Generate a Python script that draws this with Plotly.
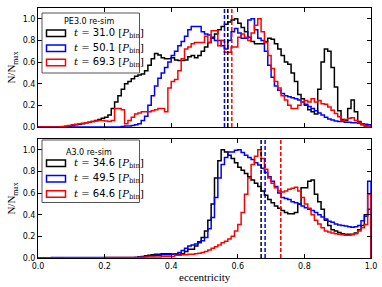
import numpy as np
import plotly.graph_objects as go
from plotly.subplots import make_subplots

# ---------------- data ----------------
BIN_EDGES = list(np.round(np.linspace(0.0, 1.0, 101), 3))

top_title = "PE3.0 re-sim"
top_times = ["31.0", "50.1", "69.3"]
top_black = [0, 0, 0, 0, 0, 0, 0, 0, 0.005, 0.01,
             0.015, 0.02, 0.025, 0.03, 0.04, 0.045, 0.05, 0.06, 0.07, 0.08,
             0.09, 0.11, 0.17, 0.23, 0.29, 0.35, 0.4, 0.42, 0.445, 0.47,
             0.48, 0.49, 0.52, 0.57, 0.63, 0.68, 0.665, 0.64, 0.63, 0.63,
             0.64, 0.62, 0.615, 0.615, 0.62, 0.65, 0.66, 0.64, 0.66, 0.7,
             0.74, 0.78, 0.83, 0.86, 0.9, 0.93, 0.95, 0.97, 0.99, 1.0,
             0.96, 0.92, 0.88, 0.83, 0.79, 0.77, 0.77, 0.77, 0.79, 0.82,
             0.81, 0.77, 0.72, 0.66, 0.6, 0.58, 0.5, 0.42, 0.3, 0.26,
             0.2, 0.16, 0.14, 0.12, 0.35, 0.6, 0.72, 0.7, 0.55, 0.37,
             0.15, 0.07, 0.06, 0.17, 0.25, 0.14, 0.05, 0.02, 0.01, 0.005]
top_blue = [0, 0, 0, 0, 0, 0, 0, 0, 0, 0,
            0, 0, 0, 0, 0, 0, 0, 0, 0, 0,
            0, 0, 0, 0, 0, 0.005, 0.01, 0.01, 0.015, 0.02,
            0.03, 0.06, 0.1, 0.2, 0.29, 0.38, 0.45, 0.5, 0.55, 0.6,
            0.66, 0.7, 0.75, 0.79, 0.84, 0.9, 0.93, 0.93, 0.93, 0.88,
            0.86, 0.85, 0.82, 0.8, 0.8, 0.75, 0.72, 0.8, 0.88, 0.91,
            0.87, 0.82, 0.82, 0.99, 1.0, 0.9, 0.82, 0.8, 0.7, 0.57,
            0.46, 0.38, 0.34, 0.31, 0.29, 0.28, 0.27, 0.26, 0.25, 0.23,
            0.21, 0.19, 0.17, 0.15, 0.13, 0.11, 0.09, 0.075, 0.065, 0.055,
            0.05, 0.05, 0.045, 0.045, 0.04, 0.04, 0.035, 0.03, 0.025, 0.02]
top_red = [0, 0, 0, 0, 0, 0, 0, 0.005, 0.01, 0.015,
           0.02, 0.025, 0.03, 0.035, 0.04, 0.045, 0.05, 0.055, 0.06, 0.06,
           0.055, 0.05, 0.06, 0.17, 0.17, 0.16, 0.03, 0.06, 0.09, 0.12,
           0.13, 0.14, 0.14, 0.14, 0.15, 0.16, 0.17, 0.17, 0.14, 0.36,
           0.42, 0.44, 0.52, 0.63, 0.72, 0.74, 0.77, 0.78, 0.78, 0.78,
           0.84, 0.78, 0.89, 0.89, 0.75, 0.8, 0.69, 0.69, 0.74, 0.74,
           0.83, 0.86, 0.83, 0.8, 0.87, 0.94, 1.0, 0.88, 0.78, 0.66,
           0.54, 0.42, 0.36, 0.29, 0.25, 0.2, 0.17, 0.17, 0.2, 0.23,
           0.245, 0.23, 0.26, 0.23, 0.245, 0.215, 0.21, 0.185, 0.155, 0.125,
           0.095, 0.06, 0.07, 0.08, 0.085, 0.06, 0.045, 0.025, 0.01, 0.005]
top_medians = [0.570, 0.560, 0.582]

bot_title = "A3.0 re-sim"
bot_times = ["34.6", "49.5", "64.6"]
bot_black = [0, 0, 0, 0, 0, 0, 0, 0, 0, 0,
             0, 0, 0, 0, 0, 0, 0, 0, 0, 0,
             0, 0, 0, 0, 0, 0, 0, 0, 0, 0.005,
             0.01, 0.015, 0.02, 0.025, 0.03, 0.035, 0.035, 0.04, 0.04, 0.04,
             0.035, 0.035, 0.035, 0.04, 0.06, 0.08, 0.08, 0.11, 0.15, 0.19,
             0.25, 0.35, 0.5, 0.74, 0.9, 1.0, 0.98, 0.95, 0.92, 0.88,
             0.84, 0.81, 0.78, 0.75, 0.72, 0.69, 0.66, 0.62, 0.58, 0.54,
             0.51, 0.48, 0.46, 0.44, 0.42, 0.41, 0.41, 0.42, 0.5, 0.65,
             0.65, 0.71, 0.72, 0.59, 0.52, 0.45, 0.35, 0.3, 0.26, 0.25,
             0.235, 0.225, 0.22, 0.22, 0.22, 0.23, 0.26, 0.3, 0.4, 0.45]
bot_blue = [0, 0, 0, 0, 0.005, 0.005, 0.005, 0.005, 0.005, 0.005,
            0.005, 0.005, 0.005, 0.005, 0.005, 0.005, 0.005, 0.005, 0.005, 0.005,
            0.005, 0.005, 0.005, 0.005, 0.005, 0.005, 0.005, 0.005, 0.005, 0.005,
            0.01, 0.01, 0.015, 0.02, 0.02, 0.025, 0.025, 0.03, 0.03, 0.03,
            0.035, 0.04, 0.05, 0.07, 0.09, 0.11, 0.12, 0.13, 0.14, 0.16,
            0.19, 0.27, 0.375, 0.56, 0.74, 0.865, 0.93, 0.98, 0.98, 0.995,
            1.0, 0.975, 0.95, 0.93, 0.91, 0.88, 0.86, 0.83, 0.79, 0.75,
            0.71, 0.66, 0.6, 0.56, 0.55, 0.54, 0.52, 0.51, 0.5, 0.48,
            0.465, 0.45, 0.44, 0.42, 0.4, 0.38, 0.36, 0.34, 0.33, 0.315,
            0.305, 0.3, 0.295, 0.29, 0.285, 0.29, 0.3, 0.345, 0.385, 0.71]
bot_red = [0, 0, 0, 0, 0, 0, 0, 0, 0.003, 0.003,
           0.003, 0.003, 0.003, 0.003, 0.003, 0.003, 0.003, 0.003, 0.003, 0.003,
           0.005, 0.005, 0.005, 0.005, 0.005, 0.005, 0.005, 0.005, 0.005, 0.005,
           0.005, 0.008, 0.01, 0.01, 0.01, 0.01, 0.01, 0.015, 0.015, 0.015,
           0.015, 0.025, 0.025, 0.03, 0.03, 0.035, 0.035, 0.04, 0.045, 0.05,
           0.06, 0.075, 0.09, 0.105, 0.12, 0.14, 0.155, 0.175, 0.2, 0.25,
           0.31, 0.42, 0.59, 0.74, 0.865, 0.94, 1.0, 0.92, 0.82, 0.74,
           0.69, 0.65, 0.62, 0.61, 0.62, 0.635, 0.645, 0.655, 0.62, 0.56,
           0.5, 0.46, 0.4, 0.35, 0.315, 0.28, 0.25, 0.24, 0.23, 0.225,
           0.22, 0.215, 0.21, 0.21, 0.215, 0.225, 0.25, 0.28, 0.31, 0.59]
bot_medians = [0.670, 0.682, 0.729]

COLORS = ["#000000", "#0000ff", "#ff0000"]
X_TICKS = [0.0, 0.2, 0.4, 0.6, 0.8, 1.0]
Y_TICKS = [0.0, 0.2, 0.4, 0.6, 0.8, 1.0]

# ---------------- figure geometry (pixels) ----------------
W, H = 382, 287
L, R, T, B = 38, 11, 8, 29
PW = W - L - R
PH = H - T - B
PANEL = 119

SERIF = "Liberation Serif"
SANS = "DejaVu Sans"


def px(xp):
    return (xp - L) / PW


def py(yp):
    return (H - B - yp) / PH


fig = make_subplots(rows=2, cols=1)


def step_xy(vals):
    xs = [BIN_EDGES[0]] + BIN_EDGES[:-1] + [BIN_EDGES[-1]]
    ys = [0] + list(vals) + [0]
    return xs, ys


def label(tstr):
    return ('<span style="font-family:DejaVu Serif"><i>t</i> = </span>' + tstr +
            ' <span style="font-family:DejaVu Serif">[<i>P</i><sub>bin</sub>]</span>')


# legend layout in pixels: frame top/bottom, title y, entry centres
legend_px = [
    dict(top=13, bottom=73, title=21.5, rows=[33.3, 48.3, 62.5]),
    dict(top=140, bottom=202.5, title=152, rows=[163.3, 178.7, 194]),
]

panels = [
    (1, [top_black, top_blue, top_red], top_times, top_medians, top_title),
    (2, [bot_black, bot_blue, bot_red], bot_times, bot_medians, bot_title),
]

shapes = []
annotations = []
for (row, series, times, meds, title), lg in zip(panels, legend_px):
    for vals, col in zip(series, COLORS):
        xs, ys = step_xy(vals)
        fig.add_trace(go.Scatter(x=xs, y=ys, mode="lines", line_shape="hv",
                                 line=dict(color=col, width=1.5),
                                 showlegend=False, hoverinfo="skip"),
                      row=row, col=1)
    yref = "y domain" if row == 1 else "y2 domain"
    xref = "x" if row == 1 else "x2"
    for m, col in zip(meds, COLORS):
        shapes.append(dict(type="line", x0=m, x1=m, y0=0, y1=1, xref=xref, yref=yref,
                           line=dict(color=col, width=1.5, dash="4px,2px")))
    # legend box
    shapes.append(dict(type="rect", xref="paper", yref="paper",
                       x0=px(42), x1=px(139.5), y0=py(lg["bottom"]), y1=py(lg["top"]),
                       fillcolor="white", line=dict(color="#555555", width=1),
                       layer="above"))
    annotations.append(dict(text=title, xref="paper", yref="paper",
                            x=px(89), y=py(lg["title"]), xanchor="center",
                            yanchor="middle", showarrow=False,
                            font=dict(family=SANS, size=8, color="black")))
    for yc, col, tstr in zip(lg["rows"], COLORS, times):
        shapes.append(dict(type="rect", xref="paper", yref="paper",
                           x0=px(46.5), x1=px(65.5), y0=py(yc + 3.3), y1=py(yc - 3.3),
                           fillcolor="white", line=dict(color=col, width=1.5),
                           layer="above"))
        annotations.append(dict(text=label(tstr), xref="paper", yref="paper",
                                x=px(72), y=py(yc), xanchor="left", yanchor="middle",
                                showarrow=False,
                                font=dict(family=SANS, size=10, color="black")))

annotations.append(dict(text="eccentricity", xref="paper", yref="paper",
                        x=px(205), y=py(277), xanchor="center", yanchor="middle",
                        showarrow=False, font=dict(family=SERIF, size=11, color="black")))

axis_common = dict(range=[0, 1], tickvals=X_TICKS, ticks="inside", ticklen=4,
                   tickcolor="black", showline=True, linecolor="black", linewidth=1,
                   mirror="ticks", showgrid=False, zeroline=False, automargin=False)
fig.update_xaxes(**axis_common)
fig.update_xaxes(showticklabels=False, row=1, col=1)
fig.update_xaxes(tickformat=".1f", tickfont=dict(family=SANS, size=8, color="black"),
                 row=2, col=1)
yaxis_common = dict(range=[0, 1.1], tickvals=Y_TICKS, tickformat=".1f", ticks="inside",
                    ticklen=4, tickcolor="black", showline=True, linecolor="black",
                    linewidth=1, mirror="ticks", showgrid=False, zeroline=False,
                    automargin=False,
                    tickfont=dict(family=SANS, size=8, color="black"),
                    title=dict(text="N/N<sub>max</sub>",
                               font=dict(family=SERIF, size=11, color="black"),
                               standoff=4))
fig.update_yaxes(**yaxis_common)
fig.update_layout(yaxis=dict(domain=[(PH - PANEL) / PH, 1.0]),
                  yaxis2=dict(domain=[0.0, PANEL / PH]))

fig.update_layout(
    width=W, height=H, autosize=False,
    margin=dict(l=L, r=R, t=T, b=B, pad=0, autoexpand=False),
    paper_bgcolor="white", plot_bgcolor="white",
    showlegend=False,
    hovermode=False,
    shapes=shapes,
    annotations=annotations,
)

fig.write_html("out.html",
               config={"displayModeBar": False, "staticPlot": True},
               post_script="document.body.style.margin='0px';"
                           "document.body.style.padding='0px';")
